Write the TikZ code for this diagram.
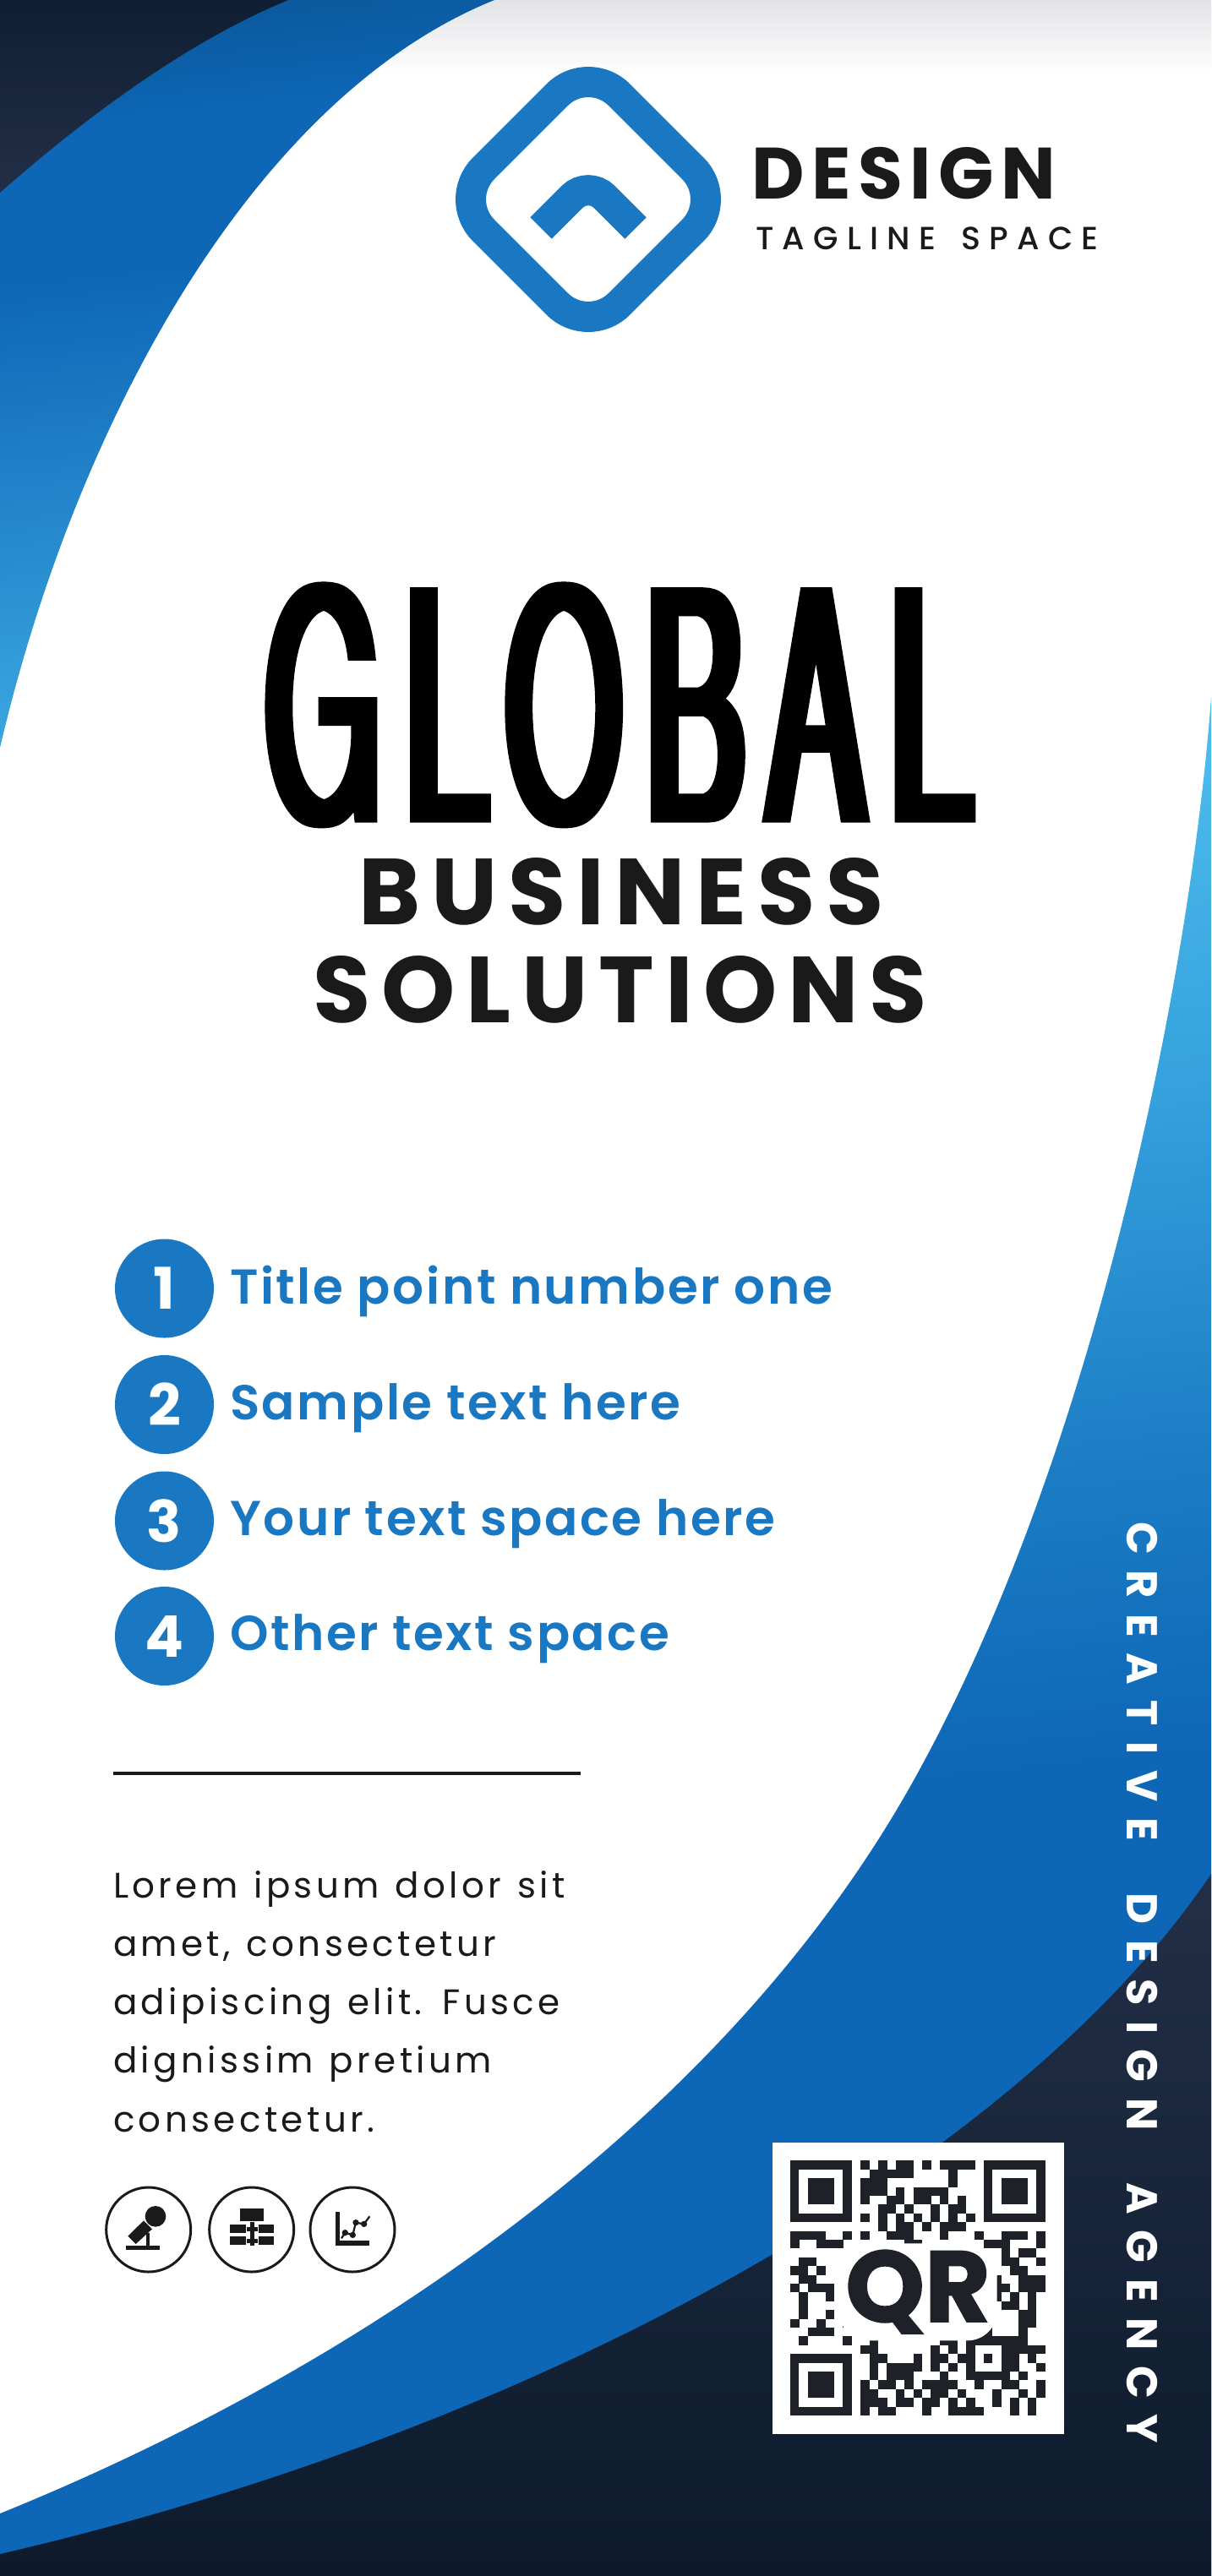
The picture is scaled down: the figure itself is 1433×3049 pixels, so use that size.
\documentclass[tikz,border=0pt]{standalone}
\usepackage{fontspec}
\setmainfont{Poppins}
\newfontfamily\globalfont[FakeStretch=0.09,FakeBold=0.85,LetterSpace=1.5]{TeX Gyre Heros}
\newfontfamily\designfont[LetterSpace=10]{Poppins}
\newfontfamily\taglinefont[LetterSpace=27,WordSpace=1.5]{Poppins Medium}
\newfontfamily\bizfont[LetterSpace=11.5]{Poppins}
\newfontfamily\pointfont[LetterSpace=4.5]{Poppins SemiBold}
\newfontfamily\loremfont[LetterSpace=10.5,WordSpace=1.2]{Poppins}
\newfontfamily\agencyfont[LetterSpace=36.5,WordSpace=2.1]{Poppins}
\newfontfamily\qrfont[FakeBold=1.5]{Poppins}
\definecolor{logoblue}{HTML}{1A78C2}
\definecolor{inkdark}{HTML}{1A1A1A}
\definecolor{qrdark}{HTML}{1E2128}
\definecolor{topgrey}{HTML}{E2E3E7}
\definecolor{navytop}{HTML}{101E33}
\definecolor{navymid}{HTML}{222F47}
\definecolor{navylow}{HTML}{0C1A2C}
\definecolor{swooshdeep}{HTML}{0B5A9E}
\definecolor{swooshblue}{HTML}{0D66B6}
\definecolor{swooshmid}{HTML}{1B7CC4}
\definecolor{swooshsky}{HTML}{36A3DE}
\definecolor{swooshpale}{HTML}{52C1F0}
\pgfdeclareverticalshading{leftswoosh}{100bp}{color(0bp)=(swooshsky!80!swooshpale); color(25bp)=(swooshsky!80!swooshpale); color(58bp)=(swooshblue); color(68bp)=(swooshblue); color(75bp)=(swooshdeep); color(100bp)=(swooshdeep)}
\pgfdeclareverticalshading{rightswoosh}{100bp}{color(0bp)=(swooshblue); color(45bp)=(swooshblue); color(53bp)=(swooshmid); color(64bp)=(swooshsky); color(75bp)=(swooshpale); color(100bp)=(swooshpale)}
\begin{document}
\begin{tikzpicture}[x=1pt,y=-1pt,
	every node/.style={inner sep=0pt, outer sep=0pt},
	numdot/.style={circle, fill=logoblue, minimum size=117pt, text=white, font=\fontsize{68}{68}\selectfont\bfseries},
	pointtext/.style={anchor=base west, text=logoblue, font=\pointfont\fontsize{58}{58}\selectfont},
	loremtext/.style={anchor=base west, text=inkdark, font=\loremfont\fontsize{42}{42}\selectfont},
	biztext/.style={anchor=base, text=inkdark, font=\bizfont\fontsize{111}{111}\selectfont\bfseries},
	iconring/.style={circle, draw=inkdark, line width=3pt, minimum size=100pt},
	logoline/.style={draw=logoblue, line width=36pt}]
	\useasboundingbox (0,0) rectangle (1433,3049);

	% background swooshes
	\shade[top color=topgrey, bottom color=white] (250,0) rectangle (1433,90);
	\shade[shading=leftswoosh, shading angle=6] (0,0) -- (585,0) .. controls (300,115) and (90,500) .. (0,885) -- cycle;
	\shade[top color=navytop, bottom color=navymid] (0,0) -- (341,0) .. controls (220,50) and (100,140) .. (0,228) -- cycle;
	\shade[shading=rightswoosh, shading angle=6] (1433,825) .. controls (1410,1140) and (1300,1710) .. (1085,2100) .. controls (860,2510) and (420,2805) .. (0,2975) -- (0,3049) -- (1433,3049) -- cycle;
	\shade[top color=navymid, bottom color=navylow] (1433,2218) .. controls (1210,2550) and (660,2870) .. (0,3023) -- (0,3049) -- (1433,3049) -- cycle;

	% logo
	\draw[logoline, rounded corners=52pt, rotate around={45:(696,236)}] (582.5,122.5) rectangle (809.5,349.5);
	\draw[logoline, rounded corners=27pt] (640,270) -- (696,214) -- (752,270);
	\node[anchor=base west, text=inkdark, font=\designfont\fontsize{86}{86}\selectfont\bfseries] (brand) at (889,235) {DESIGN};
	\node[anchor=base west, text=inkdark, font=\taglinefont\fontsize{38}{38}\selectfont] (tagline) at (894,295) {TAGLINE SPACE};

	% title
	\node[anchor=base west] (title) at (314,972) {\resizebox{836pt}{282pt}{\globalfont\fontsize{405}{405}\selectfont GLOBAL}};
	\node[biztext] (business) at (735,1094) {BUSINESS};
	\node[biztext] (solutions) at (734,1210) {SOLUTIONS};

	% numbered points
	\foreach \i/\ypos/\base/\label in {1/1525/1543/Title point number one, 2/1662.5/1680/Sample text here, 3/1800/1817/Your text space here, 4/1936.5/1953/Other text space}{
		\node[numdot] (n\i) at (194.5,\ypos) {\i};
		\node[pointtext] (t\i) at (272,\base) {\label};
	}

	% rule and paragraph
	\coordinate (rulel) at (134,2099);
	\coordinate (ruler) at (687,2099);
	\draw[inkdark, line width=3.5pt] (rulel) -- (ruler);
	\foreach \j/\base/\label in {1/2246/Lorem ipsum dolor sit, 2/2315/{amet, consectetur}, 3/2384/adipiscing elit. Fusce, 4/2453/dignissim pretium, 5/2523/consectetur.}{
		\node[loremtext] (l\j) at (134,\base) {\label};
	}

	% icons
	\node[iconring] (ringmic) at (175.7,2639) {};
	\node[iconring] (ringorg) at (297.7,2639) {};
	\node[iconring] (ringchart) at (417,2639) {};
	\begin{scope}[shift={(100,2560)},x=0.33333pt,y=-0.33333pt]
		\fill[inkdark] (252,190) circle[radius=37];
		\fill[inkdark] (210,205) -- (240,235) -- (182,288) -- (154,260) -- cycle;
		\fill[inkdark] (218,250) rectangle (232,295);
		\fill[inkdark] (148,294) rectangle (266,308);
		\fill[inkdark] (553,163) rectangle (637,207);
		\fill[inkdark] (517,220) rectangle (572,249);
		\fill[inkdark] (517,262) rectangle (572,292);
		\fill[inkdark] (618,220) rectangle (673,249);
		\fill[inkdark] (618,262) rectangle (673,292);
		\fill[inkdark] (588,211) rectangle (602,295);
		\fill[inkdark] (576,228) rectangle (614,242);
		\fill[inkdark] (576,270) rectangle (614,284);
		\fill[inkdark] (891,173) rectangle (907,294);
		\fill[inkdark] (891,277) rectangle (1012,294);
		\draw[inkdark, line width=2.2pt] (912,268) -- (925,248) -- (952,256) -- (963,212) -- (992,217) -- (1012,190);
		\foreach \dotx/\doty in {925/248, 952/256, 963/212, 992/217}
			\fill[inkdark] (\dotx,\doty) circle[radius=11];
	\end{scope}

	% qr code
	\fill[white] (914,2536) rectangle (1259,2881);
	\foreach \fx/\fy in {0/0, 22/0, 0/22}{
		\draw[qrdark, line width=10.4pt] (935+10.4*\fx+5.2,2557.3+10.4*\fy+5.2) rectangle +(62.4,62.4);
		\fill[qrdark] (935+10.4*\fx+20.8,2557.3+10.4*\fy+20.8) rectangle +(31.2,31.2);
	}
	\foreach \qrow/\qcols in {0/{8,10,12,13,15,17,18,19,20}, 1/{9,10,11,12,13,18}, 2/{8,9,10,18}, 3/{8,9,10,12,14,15,16,17},
		4/{8,11,12,14,15,17,19}, 5/{10,11,13,16,18,19}, 6/{8,10,12,14,16,18,20}, 7/{10,12,13,15,17,18,19},
		8/{0,1,2,3,6,8,11,12,13,17,21,24,25,26,28}, 9/{0,3,4,5,13,14,22,23,24,28}, 10/{24,26,27}, 11/{1,2,24,25,28},
		12/{0,1,3,25,26}, 13/{1,2,23,26,27,28}, 14/{0,2,3,4,22,23,24,26,27,28}, 15/{1,4,23,25,27}, 16/{1,24,25,27},
		17/{1,4,26,27}, 18/{0,3,6,26,27}, 19/{2,3,4,8,9,15,16,17,19,21,22,26}, 20/{1,6,9,17,18,20,21,22,23,24,25,26},
		21/{8,9,16,18,20,24,25,26,27,28}, 22/{9,10,14,16,17,19,20,22,24,25,27}, 23/{9,11,12,13,14,16,18,20,24,25,28},
		24/{9,11,12,13,17,20,21,22,23,24,26}, 25/{8,10,11,13,15,16,17,18,21,24,25,28}, 26/{8,9,12,14,16,17,19,23,26,28},
		27/{8,9,10,12,13,15,16,18,20,23,25,27}, 28/{8,10,11,15,18,19,20,21,25,27}}{
		\foreach \qcol in \qcols
			\fill[qrdark] (935+10.4*\qcol,2557.3+10.4*\qrow) rectangle +(10.5,10.5);
	}
	\node[anchor=base, fill=white, rounded corners=35pt, inner xsep=8pt, inner ysep=8pt, text=qrdark, font=\qrfont\fontsize{119}{119}\selectfont\bfseries] (qrtext) at (1086,2748) {QR};

	% side text
	\node[anchor=base west, rotate=-90, text=white, font=\agencyfont\fontsize{51}{51}\selectfont\bfseries] (agency) at (1333,1801) {CREATIVE DESIGN AGENCY};
\end{tikzpicture}
\end{document}
